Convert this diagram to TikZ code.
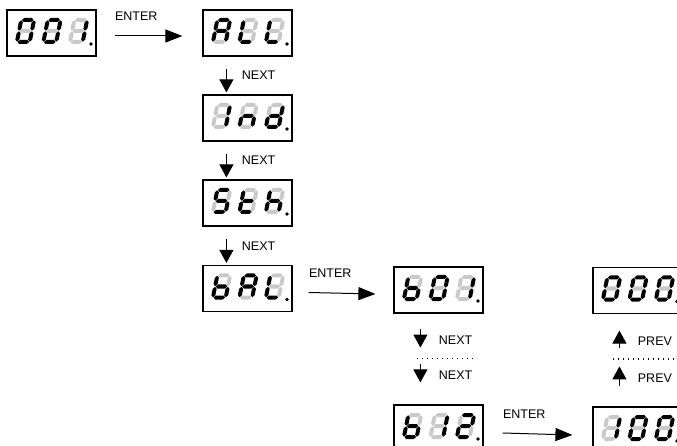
\documentclass[tikz,border=0pt]{standalone}
\usepackage{fontspec}
\setmainfont{Liberation Sans}
\usetikzlibrary{arrows.meta,positioning,calc}

\colorlet{segon}{black}
\colorlet{segoff}{black!21}

% lit segments a,b,c,d,e,f,g
\def\segZero{{1,1,1,1,1,1,0}}
\def\segOne{{0,1,1,0,0,0,0}}
\def\segTwo{{1,1,0,1,1,0,1}}
\def\segA{{1,1,1,0,1,1,1}}
\def\segL{{0,0,0,1,1,1,0}}
\def\segN{{0,0,1,0,1,0,1}}
\def\segD{{0,1,1,1,1,0,1}}
\def\segS{{1,0,1,1,0,1,1}}
\def\segT{{0,0,0,1,1,1,1}}
\def\segH{{0,0,1,0,1,1,1}}
\def\segB{{0,0,1,1,1,1,1}}

\newcommand{\sevseg}[2]{%
  \begin{scope}[shift={#1}, xslant=0.2]
    \foreach \sx/\sy/\rot/\len [count=\i from 0] in
        {0/-11/0/11.6, 6.4/-5.5/90/10.4, 6.4/5.5/90/10.4, 0/11/0/11.6,
         -6.4/5.5/90/10.4, -6.4/-5.5/90/10.4, 0/0/0/11.6} {
      \pgfmathtruncatemacro\segflag{#2[\i]}
      \ifnum\segflag=1 \colorlet{segfill}{segon}\else\colorlet{segfill}{segoff}\fi
      \fill[segfill, shift={(\sx,\sy)}, rotate=\rot]
        (-\len/2,0) -- (-\len/2+2,-2) -- (\len/2-2,-2)
        -- (\len/2,0) -- (\len/2-2,2) -- (-\len/2+2,2) -- cycle;
    }
  \end{scope}}

\newcommand{\showcode}[4]{%
  \sevseg{([xshift=-26pt,yshift=2pt]#1.center)}{#2}
  \sevseg{([xshift=0.5pt,yshift=2pt]#1.center)}{#3}
  \sevseg{([xshift=27pt,yshift=2pt]#1.center)}{#4}
  \fill[segon] ([xshift=39.5pt,yshift=-11pt]#1.center) circle (1.9pt);}

\begin{document}
\begin{tikzpicture}[x=1pt, y=-1pt,
    font=\fontsize{12.5}{15}\selectfont,
    display/.style={draw=black, line width=1.2pt, minimum width=89pt, minimum height=46pt, inner sep=0pt},
    lbl/.style={inner sep=0pt},
    enterarrow/.style={-{Triangle[length=17pt,width=13pt]}, line width=1pt},
    nextarrow/.style={-{Triangle[length=13pt,width=14pt]}, line width=1pt},
    gap/.style={line width=1.3pt, dash pattern=on 1pt off 4pt}
]
\useasboundingbox (0,0) rectangle (677,446);
\clip (0,0) rectangle (677,446);

\node[display] (d001) at (51.5,33) {};
\node[display] (all) at (247.5,33) {};
\node[display] (ind) at (247.5,118) {};
\node[display] (sth) at (247.5,203) {};
\node[display] (bal) at (247.5,288.5) {};
\node[display] (b01) at (438.5,290) {};
\node[display] (b12) at (438.5,428) {};
\node[display] (n000) at (637.5,290.5) {};
\node[display] (n100) at (637.5,430) {};

\showcode{d001}{\segZero}{\segZero}{\segOne}
\showcode{all}{\segA}{\segL}{\segL}
\showcode{ind}{\segOne}{\segN}{\segD}
\showcode{sth}{\segS}{\segT}{\segH}
\showcode{bal}{\segB}{\segA}{\segL}
\showcode{b01}{\segB}{\segZero}{\segOne}
\showcode{b12}{\segB}{\segOne}{\segTwo}
\showcode{n000}{\segZero}{\segZero}{\segZero}
\showcode{n100}{\segOne}{\segZero}{\segZero}

% enter
\draw[enterarrow] ([xshift=18pt,yshift=-3pt]d001.east) -- node[lbl, pos=0, anchor=south west, yshift=14.5pt]{ENTER} ([xshift=-20pt,yshift=-3pt]all.west);
\draw[enterarrow] ([xshift=16pt,yshift=-4pt]bal.east) -- node[lbl, pos=0, anchor=south west, yshift=14.5pt]{ENTER} ([xshift=-18pt,yshift=-4pt]b01.west);
\draw[enterarrow] ([xshift=19pt,yshift=-5pt]b12.east) -- node[lbl, pos=0, anchor=south west, yshift=14.5pt]{ENTER} ([xshift=-20pt,yshift=-5pt]n100.west);

% next, column of modes
\draw[nextarrow] ([xshift=24pt,yshift=-12pt]all.south west) -- node[lbl, anchor=west, xshift=15pt, yshift=5pt]{NEXT} ([xshift=24pt,yshift=2pt]ind.north west);
\draw[nextarrow] ([xshift=24pt,yshift=-12pt]ind.south west) -- node[lbl, anchor=west, xshift=15pt, yshift=5pt]{NEXT} ([xshift=24pt,yshift=2pt]sth.north west);
\draw[nextarrow] ([xshift=24pt,yshift=-12pt]sth.south west) -- node[lbl, anchor=west, xshift=15pt, yshift=5pt]{NEXT} ([xshift=24pt,yshift=2pt]bal.north west);

% next, b01 ... b12
\draw[nextarrow] ([xshift=27pt,yshift=-15pt]b01.south west) -- node[lbl, anchor=west, xshift=18pt, yshift=-2pt]{NEXT} ([xshift=27pt,yshift=-34pt]b01.south west);
\draw[gap] ([xshift=23.5pt,yshift=-45pt]b01.south west) -- ([xshift=83.5pt,yshift=-45pt]b01.south west);
\draw[nextarrow] ([xshift=27pt,yshift=40pt]b12.north west) -- node[lbl, anchor=west, xshift=18pt, yshift=-2pt]{NEXT} ([xshift=27pt,yshift=22pt]b12.north west);

% prev, 100 ... 000
\draw[nextarrow] ([xshift=27pt,yshift=-33.5pt]n000.south west) -- node[lbl, anchor=west, xshift=18pt, yshift=-2pt]{PREV} ([xshift=27pt,yshift=-16.5pt]n000.south west);
\draw[gap] ([xshift=20.5pt,yshift=-45pt]n000.south west) -- ([xshift=82.5pt,yshift=-45pt]n000.south west);
\draw[nextarrow] ([xshift=27pt,yshift=20pt]n100.north west) -- node[lbl, anchor=west, xshift=18pt, yshift=-2pt]{PREV} ([xshift=27pt,yshift=40pt]n100.north west);

\end{tikzpicture}
\end{document}
